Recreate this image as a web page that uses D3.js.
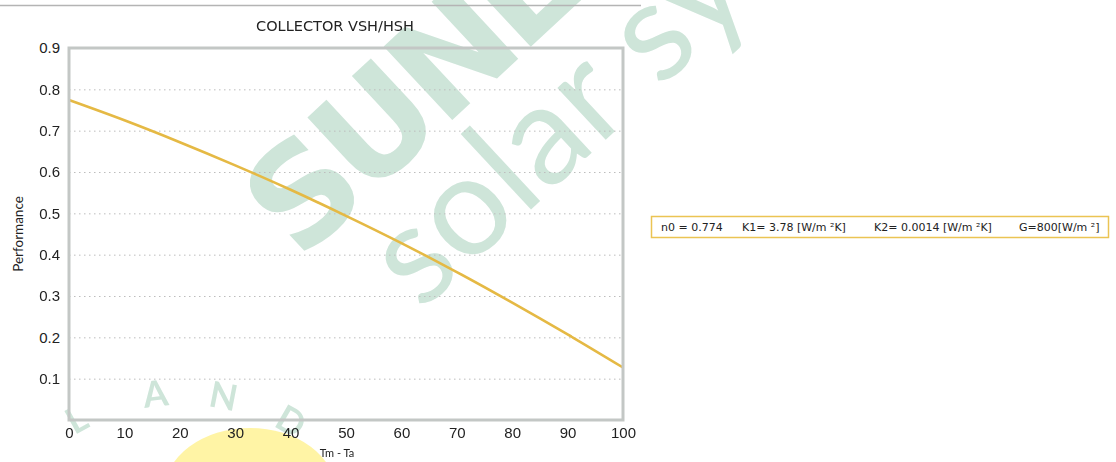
<!DOCTYPE html>
<html>
<head>
<meta charset="utf-8">
<script src="https://cdn.jsdelivr.net/npm/d3@7"></script>
<style>
  body { margin: 0; background: #fff; }
  svg { display: block; font-family: Lato, "Open Sans", sans-serif; }
</style>
</head>
<body>
<svg id="chart" width="1116" height="462"></svg>
<script>
// values
var tempDiff = [0, 10, 20, 30, 40, 50, 60, 70, 80, 90, 100];
var efficiency = [0.774, 0.725, 0.672, 0.616, 0.557, 0.494, 0.428, 0.358, 0.284, 0.207, 0.127];
var yTicks = [0.1, 0.2, 0.3, 0.4, 0.5, 0.6, 0.7, 0.8, 0.9];
var xTicks = [0, 10, 20, 30, 40, 50, 60, 70, 80, 90, 100];
var legendItems = ["n0 = 0.774", "K1= 3.78 [W/m \u00b2K]", "K2= 0.0014 [W/m \u00b2K]", "G=800[W/m \u00b2]"];
var legendX = [661, 742, 874, 1019];

var margin = {left: 69, top: 48};
var width = 554;
var height = 372;

var svg = d3.select("#chart");

// watermark sits under the chart marks
var wm = svg.append("g").style("opacity", 0.5);
var wmGreen = "#9ccab3";

wm.append("ellipse")
    .attr("cx", 250).attr("cy", 492)
    .attr("rx", 86).attr("ry", 64)
    .style("fill", "#ffe94a");

wm.append("text")
    .attr("transform", "translate(300,262) rotate(-43)")
    .style("font-size", "138px")
    .style("font-weight", "bold")
    .style("font-family", "'DejaVu Sans', sans-serif")
    .style("letter-spacing", "-8px")
    .style("fill", wmGreen)
    .text("SUNLAND");

wm.append("text")
    .attr("transform", "translate(421,312) rotate(-43)")
    .style("font-size", "140px")
    .style("font-family", "Lato, sans-serif")
    .style("font-weight", "400")
    .style("fill", wmGreen)
    .text("solar systems");

var landLetters = ["L", "A", "N", "D"];
var landAngles = [-29, -7, 11, 30];
wm.selectAll(".land")
    .data(landLetters)
    .enter()
    .append("text")
    .attr("class", "land")
    .attr("transform", function(d, i) {
        var a = landAngles[i] * Math.PI / 180;
        return "translate(" + (182 + 205 * Math.sin(a)) + "," + (610 - 205 * Math.cos(a)) + ") rotate(" + landAngles[i] + ")";
    })
    .attr("text-anchor", "middle")
    .style("font-size", "36px")
    .style("font-weight", "bold")
    .style("fill", wmGreen)
    .text(function(d) { return d; });

// thin line at the very top
svg.append("line")
    .attr("x1", 0).attr("x2", 641)
    .attr("y1", 5.5).attr("y2", 5.5)
    .style("stroke", "#b4b4b4")
    .style("stroke-width", 1.5);

var x = d3.scaleLinear()
    .domain([0, 100])
    .range([0, width]);
var y = d3.scaleLinear()
    .domain([0, 0.9])
    .range([height, 0]);

var g = svg.append("g")
    .attr("transform", "translate(" + margin.left + "," + margin.top + ")");

// dotted grid
var grid = g.append("g")
    .call(d3.axisLeft(y).tickValues(yTicks.slice(0, 8)).tickSize(-width).tickFormat(""));
grid.select(".domain").remove();
grid.selectAll("line")
    .style("stroke", "#bdbdbd")
    .style("stroke-dasharray", "1.5,3.5");

var yAxis = g.append("g")
    .call(d3.axisLeft(y).tickValues(yTicks).tickSize(0).tickPadding(9).tickFormat(d3.format(".1f")));
yAxis.select(".domain").remove();
yAxis.selectAll("text")
    .style("font-size", "15px")
    .style("fill", "#222");

var xAxis = g.append("g")
    .attr("transform", "translate(0," + height + ")")
    .call(d3.axisBottom(x).tickValues(xTicks).tickSize(0).tickPadding(7));
xAxis.select(".domain").remove();
xAxis.selectAll("text")
    .style("font-size", "15px")
    .style("fill", "#222");

var line = d3.line()
    .x(function(d, i) { return x(tempDiff[i]); })
    .y(function(d) { return y(d); })
    .curve(d3.curveMonotoneX);

g.append("path")
    .datum(efficiency)
    .attr("d", line)
    .style("fill", "none")
    .style("stroke", "#e5b944")
    .style("stroke-width", 2.6);

// plot frame
g.append("rect")
    .attr("width", width)
    .attr("height", height)
    .style("fill", "none")
    .style("stroke", "#c3c7c5")
    .style("stroke-width", 3);

svg.append("text")
    .attr("x", 335).attr("y", 31)
    .attr("text-anchor", "middle")
    .style("font-size", "14.5px")
    .style("font-family", "'DejaVu Sans', sans-serif")
    .style("fill", "#222")
    .text("COLLECTOR VSH/HSH");

svg.append("text")
    .attr("x", 337).attr("y", 457)
    .attr("text-anchor", "middle")
    .style("font-size", "11px")
    .style("fill", "#222")
    .text("Tm - Ta");

svg.append("text")
    .attr("transform", "translate(23,234) rotate(-90)")
    .attr("text-anchor", "middle")
    .style("font-size", "13.5px")
    .style("fill", "#222")
    .text("Performance");

// parameter box
svg.append("rect")
    .attr("x", 651.5).attr("y", 216.5)
    .attr("width", 457).attr("height", 21)
    .style("fill", "#fff")
    .style("stroke", "#ebc453")
    .style("stroke-width", 1.5);

svg.selectAll(".param")
    .data(legendItems)
    .enter()
    .append("text")
    .attr("class", "param")
    .attr("x", function(d, i) { return legendX[i]; })
    .attr("y", 231)
    .style("font-size", "11px")
    .style("font-family", "'DejaVu Sans', sans-serif")
    .style("fill", "#222")
    .text(function(d) { return d; });
</script>
</body>
</html>
